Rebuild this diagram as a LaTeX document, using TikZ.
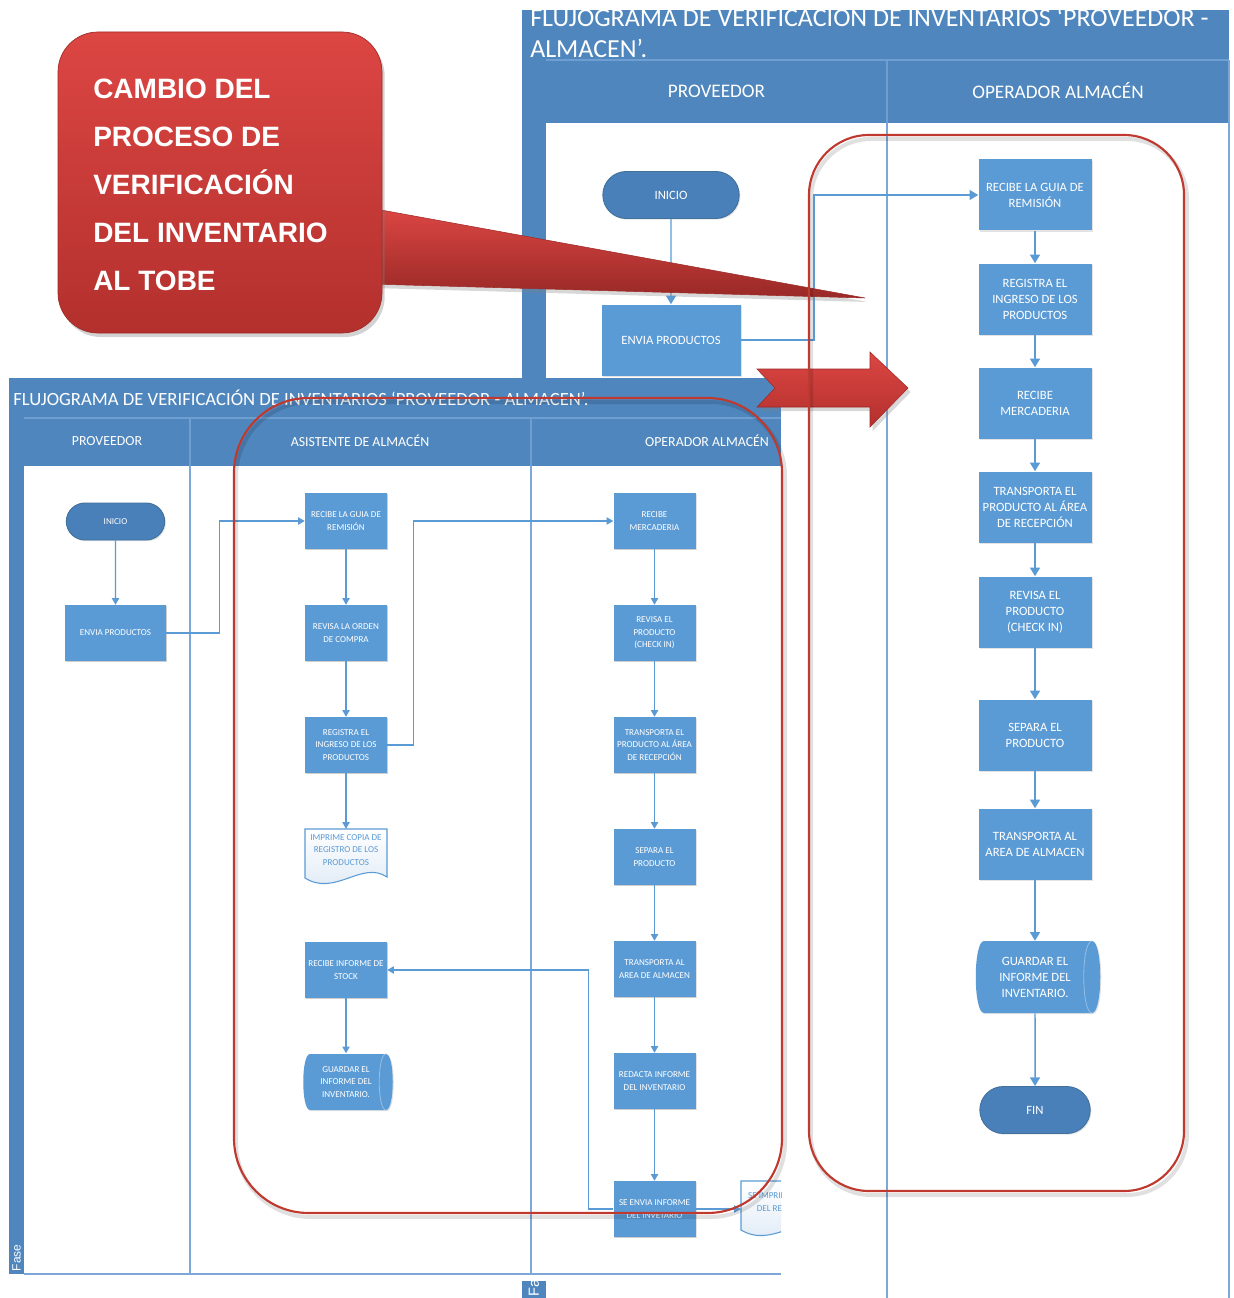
\documentclass[tikz,border=0pt]{standalone}
\usepackage{fontspec}
\setmainfont{Carlito}
\newfontfamily\arialf{Liberation Sans}
\usetikzlibrary{shapes.misc,arrows.meta,shadows,calc}
\definecolor{bandblue}{HTML}{4F86BD}
\definecolor{procblue}{HTML}{5B9BD5}
\definecolor{termblue}{HTML}{4A80B9}
\definecolor{termedge}{HTML}{41719C}
\definecolor{laneline}{HTML}{7DA7D9}
\definecolor{sepline}{HTML}{6F9ED0}
\definecolor{connblue}{HTML}{5B9BD5}
\definecolor{redline}{HTML}{C0392F}
\definecolor{calTop}{HTML}{DC4643}
\definecolor{calBot}{HTML}{B3302D}
\definecolor{calEdge}{HTML}{9E2A27}
\definecolor{docbot}{HTML}{DCE8F5}
\begin{document}
\begin{tikzpicture}[x=0.75pt,y=-0.75pt,
  procbox/.style={rectangle, fill=procblue, text=white, align=center, inner sep=1pt,
    minimum width=84.75pt, minimum height=53.25pt, font=\fontsize{9.5}{12}\selectfont,
    drop shadow={opacity=0.22,shadow xshift=0.9pt,shadow yshift=-0.9pt}},
  lprocbox/.style={procbox, minimum width=61.5pt, minimum height=42pt,
    font=\fontsize{6.8}{9.4}\selectfont,
    drop shadow={opacity=0.22,shadow xshift=0.7pt,shadow yshift=-0.7pt}},
  termbox/.style={rounded rectangle, fill=termblue, draw=termedge, line width=0.7pt,
    text=white, inner sep=1pt, font=\fontsize{9.5}{12}\selectfont,
    minimum width=84.75pt, minimum height=35.25pt,
    drop shadow={opacity=0.22,shadow xshift=0.9pt,shadow yshift=-0.9pt}},
  ltermbox/.style={termbox, minimum width=75.75pt, minimum height=27.75pt,
    font=\fontsize{6.8}{9.4}\selectfont},
  storetext/.style={rectangle, text=white, align=center, inner sep=1pt,
    minimum width=84.75pt, minimum height=54pt, font=\fontsize{9.5}{12}\selectfont},
  lstoretext/.style={storetext, minimum width=61.5pt, minimum height=42.75pt,
    font=\fontsize{6.8}{9.4}\selectfont},
  storefill/.style={fill=procblue, drop shadow={opacity=0.22,shadow xshift=0.8pt,shadow yshift=-0.8pt}},
  storeinner/.style={draw=procblue!65!white, line width=0.6pt},
  docshape/.style={top color=white, bottom color=docbot, draw=procblue, line width=0.8pt},
  doctext/.style={rectangle, text=procblue, align=center, inner sep=1pt,
    minimum width=61.5pt, minimum height=31.5pt, font=\fontsize{6.8}{9.4}\selectfont},
  conn/.style={draw=connblue, line width=1.1pt, -{Triangle[width=7.5pt,length=6.5pt]}},
  lconn/.style={draw=connblue, line width=0.85pt, -{Triangle[width=5.5pt,length=5pt]}},
  hdrtext/.style={text=white, font=\fontsize{14.4}{16}\selectfont},
  lhdrtext/.style={text=white, font=\fontsize{10.4}{12}\selectfont},
  titletext/.style={text=white, anchor=base west, inner sep=0pt, font=\fontsize{19.5}{22}\selectfont},
  ltitletext/.style={text=white, anchor=west, inner sep=0pt, font=\fontsize{14}{16}\selectfont},
  lanestroke/.style={draw=laneline, line width=0.9pt},
  sepstroke/.style={draw=sepline, line width=0.8pt},
  redframe/.style={draw=redline, line width=1.6pt},
  redshadow/.style={draw=black, opacity=0.12, line width=3pt},
  fasetext/.style={rotate=90, anchor=west, text=white, inner sep=2pt}
]
\useasboundingbox (0,0) rectangle (1233,1298);
\fill[white] (0,0) rectangle (1233,1298);

%================ RIGHT (TO-BE) DIAGRAM =================
\fill[bandblue] (522,10) rectangle (1229,60);
\fill[bandblue] (522,60) rectangle (546,1298);
\fill[bandblue] (546,60) rectangle (1229,123);
\draw[sepstroke] (546,60) -- (1229,60);
\draw[sepstroke] (887,60) -- (887,123);
\draw[lanestroke] (887,123) -- (887,1298);
\draw[lanestroke] (1229,60) -- (1229,1298);
\begin{scope}
\clip (522,10) rectangle (1229,60);
\node[titletext] (rTitleA) at (530,27) {FLUJOGRAMA DE VERIFICACION DE INVENTARIOS ‘PROVEEDOR -};
\node[titletext] (rTitleB) at (530,58) {ALMACEN’.};
\end{scope}
\node[hdrtext] (rH1) at (716.5,91) {PROVEEDOR};
\node[hdrtext] (rH2) at (1058,91) {OPERADOR ALMACÉN};
\node[fasetext, font=\arialf\fontsize{11}{11}\selectfont] (rFase) at (534,1299) {Fase};

\node[termbox, minimum width=104.25pt] (rIni) at (671,195) {INICIO};
\node[procbox, minimum width=104.25pt] (rEnv) at (671,340) {ENVIA PRODUCTOS};
\node[procbox] (rR1) at (1035,195) {RECIBE LA GUIA DE\\REMISIÓN};
\node[procbox] (rR2) at (1035,299) {REGISTRA EL\\INGRESO DE LOS\\PRODUCTOS};
\node[procbox] (rR3) at (1035,403) {RECIBE\\MERCADERIA};
\node[procbox] (rR4) at (1035,507) {TRANSPORTA EL\\PRODUCTO AL ÁREA\\DE RECEPCIÓN};
\node[procbox] (rR5) at (1035,612) {REVISA EL\\PRODUCTO\\(CHECK IN)};
\node[procbox] (rR6) at (1035,735) {SEPARA EL\\PRODUCTO};
\node[procbox] (rR7) at (1035,844) {TRANSPORTA AL\\AREA DE ALMACEN};
% stored data shape
\path[storefill] (984,941) -- (1092,941) .. controls (1103,941) and (1103,1013) .. (1092,1013)
  -- (984,1013) .. controls (973,1013) and (973,941) .. (984,941) -- cycle;
\draw[storeinner] (1092,941) .. controls (1081,941) and (1081,1013) .. (1092,1013);
\node[storetext] (rR8) at (1035,977) {GUARDAR EL\\INFORME DEL\\INVENTARIO.};
\node[termbox] (rFin) at (1035,1110) {FIN};

\draw[conn] (rIni) -- (rEnv);
\draw[conn] (rEnv.east) -- ++(73,0) |- (rR1.west);
\draw[conn] (rR1) -- (rR2);
\draw[conn] (rR2) -- (rR3);
\draw[conn] (rR3) -- (rR4);
\draw[conn] (rR4) -- (rR5);
\draw[conn] (rR5) -- (rR6);
\draw[conn] (rR6) -- (rR7);
\draw[conn] (rR7) -- (rR8);
\draw[conn] (rR8) -- (rFin);

%================ CALLOUT =================
\path[top color=calTop, bottom color=calBot!85!black, draw=calEdge, line width=0.4pt,
  drop shadow={opacity=0.3,shadow xshift=2pt,shadow yshift=-3pt}]
  (370,208) -- (865,298) -- (370,284) -- cycle;
\path[top color=calTop, bottom color=calBot, draw=calEdge, line width=0.5pt, rounded corners=30pt,
  drop shadow={opacity=0.35,shadow xshift=2pt,shadow yshift=-3pt}]
  (58,32) rectangle (382,333);
\node[anchor=west, align=left, text=white, inner sep=0pt,
  font=\arialf\bfseries\fontsize{21}{36}\selectfont] (callout) at (93,184.5)
  {CAMBIO DEL\\PROCESO DE\\VERIFICACIÓN\\DEL INVENTARIO\\AL TOBE};

%================ LEFT (AS-IS) DIAGRAM =================
\begin{scope}
\clip (0,370) rectangle (781,1298);
\fill[white] (9,378) rectangle (781,1281);
\fill[bandblue] (9,378) rectangle (781,418);
\fill[bandblue] (9,418) rectangle (24,1274);
\fill[bandblue] (24,418) rectangle (781,466);
\draw[sepstroke] (24,418) -- (781,418);
\draw[sepstroke] (190,418) -- (190,466);
\draw[sepstroke] (531,418) -- (531,466);
\draw[lanestroke] (190,466) -- (190,1274);
\draw[lanestroke] (531,466) -- (531,1274);
\draw[lanestroke] (24,1274) -- (781,1274);
\node[ltitletext] (lTitle) at (13,398) {FLUJOGRAMA DE VERIFICACIÓN DE INVENTARIOS ‘PROVEEDOR - ALMACEN’.};
\node[lhdrtext] (lH1) at (107,441) {PROVEEDOR};
\node[lhdrtext] (lH2) at (360,441) {ASISTENTE DE ALMACÉN};
\node[lhdrtext] (lH3) at (707,441) {OPERADOR ALMACÉN};
\node[fasetext, font=\arialf\fontsize{9}{9}\selectfont] (lFase) at (16.5,1274) {Fase};

\node[ltermbox] (lIni) at (115.5,521.5) {INICIO};
\node[lprocbox, minimum width=75.75pt] (lEnv) at (115.5,633) {ENVIA PRODUCTOS};

\node[lprocbox] (lA1) at (346,521) {RECIBE LA GUIA DE\\REMISIÓN};
\node[lprocbox] (lA2) at (346,633) {REVISA LA ORDEN\\DE COMPRA};
\node[lprocbox] (lA3) at (346,745) {REGISTRA EL\\INGRESO DE LOS\\PRODUCTOS};
\path[docshape] (305,829) -- (387,829) -- (387,877) .. controls (362,860) and (335,897) .. (305,878) -- cycle;
\node[doctext] (lDoc) at (346,850) {IMPRIME COPIA DE\\REGISTRO DE LOS\\PRODUCTOS};
\node[lprocbox] (lA5) at (346,970) {RECIBE INFORME DE\\STOCK};
\path[storefill] (310,1054) -- (386,1054) .. controls (395,1054) and (395,1110) .. (386,1110)
  -- (310,1110) .. controls (301,1110) and (301,1054) .. (310,1054) -- cycle;
\draw[storeinner] (386,1054) .. controls (377,1054) and (377,1110) .. (386,1110);
\node[lstoretext] (lA6) at (346,1082) {GUARDAR EL\\INFORME DEL\\INVENTARIO.};

\node[lprocbox] (lO1) at (654.5,521) {RECIBE\\MERCADERIA};
\node[lprocbox] (lO2) at (654.5,633) {REVISA EL\\PRODUCTO\\(CHECK IN)};
\node[lprocbox] (lO3) at (654.5,745) {TRANSPORTA EL\\PRODUCTO AL ÁREA\\DE RECEPCIÓN};
\node[lprocbox] (lO4) at (654.5,857) {SEPARA EL\\PRODUCTO};
\node[lprocbox] (lO5) at (654.5,969) {TRANSPORTA AL\\AREA DE ALMACEN};
\node[lprocbox] (lO6) at (654.5,1081) {REDACTA INFORME\\DEL INVENTARIO};
\node[lprocbox] (lO7) at (654.5,1209) {SE ENVIA INFORME\\DEL INVETARIO};
\path[docshape] (741,1181) -- (825,1181) -- (825,1229) .. controls (800,1212) and (773,1249) .. (741,1230) -- cycle;
\node[doctext, minimum width=63pt] (lDoc2) at (783,1202) {SE IMPRIME COPIA\\DEL REGISTRO};

\draw[lconn] (lIni) -- (lEnv);
\draw[lconn] (lEnv.east) -- ++(53,0) |- (lA1.west);
\draw[lconn] (lA1) -- (lA2);
\draw[lconn] (lA2) -- (lA3);
\draw[lconn] (lA3) -- (lDoc);
\draw[lconn] (lA3.east) -- ++(26,0) |- (lO1.west);
\draw[lconn] (lA5) -- (lA6);
\draw[lconn] (lO1) -- (lO2);
\draw[lconn] (lO2) -- (lO3);
\draw[lconn] (lO3) -- (lO4);
\draw[lconn] (lO4) -- (lO5);
\draw[lconn] (lO5) -- (lO6);
\draw[lconn] (lO6) -- (lO7);
\draw[lconn] (lO7.west) -- ++(-25,0) |- (lA5.east);
\draw[lconn] (lO7.east) -- (lO7.east -| lDoc2.west);
\end{scope}

% left red frame
\draw[redshadow, rounded corners=56pt] (236,402) rectangle (785,1217);
\draw[redframe, rounded corners=56pt] (234,398) rectangle (782,1213);

%================ BIG RED ARROW =================
\path[top color=calTop, bottom color=calBot, draw=calEdge, line width=0.4pt,
  drop shadow={opacity=0.3,shadow xshift=2pt,shadow yshift=-3pt}]
  (757,369) -- (870,369) -- (870,352) -- (908,388) -- (870,427) -- (870,407) -- (757,407) -- (775,388) -- cycle;

% right red frame
\draw[redshadow, rounded corners=45pt] (811,139) rectangle (1187,1195);
\draw[redframe, rounded corners=45pt] (809,135) rectangle (1184,1191);
\end{tikzpicture}
\end{document}
